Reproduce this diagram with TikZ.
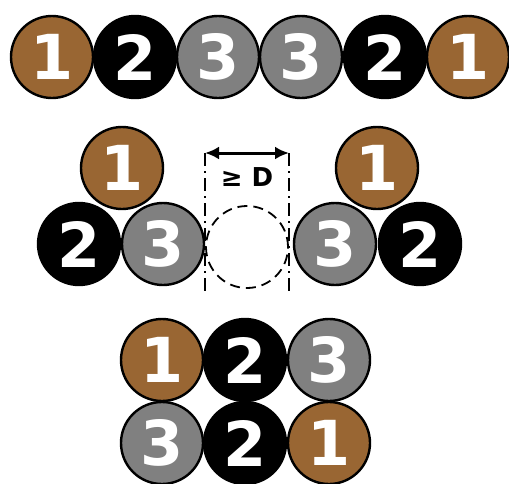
\documentclass[tikz,border=0pt]{standalone}
\usepackage{fontspec}
\setmainfont{DejaVu Sans}
\usetikzlibrary{arrows.meta}
\definecolor{brownc}{RGB}{153,102,51}
\definecolor{grayc}{RGB}{128,128,128}
\begin{document}
\begin{tikzpicture}[
    x=1pt, y=-1pt,
    wire/.style={circle, draw=black, line width=2.4pt, minimum size=82pt, inner sep=0pt,
                 text=white, font=\fontsize{62}{62}\selectfont\bfseries},
    one/.style={wire, fill=brownc},
    two/.style={wire, fill=black},
    three/.style={wire, fill=grayc},
    gap/.style={circle, draw=black, dash pattern=on 10pt off 6pt, line width=1.8pt, minimum size=82pt, inner sep=0pt},
    guide/.style={line width=1.8pt, dash pattern=on 13pt off 5pt on 2pt off 5pt},
    arrow/.style={{Latex[length=14pt,width=13pt]}-{Latex[length=14pt,width=13pt]}, line width=3pt}
]
\useasboundingbox (0,0) rectangle (509,483);

% top row
\node[one]   (t1) at (52,57)  {1};
\node[two]   (t2) at (135,57) {2};
\node[three] (t3) at (218,57) {3};
\node[three] (t4) at (301,57) {3};
\node[two]   (t5) at (385,57) {2};
\node[one]   (t6) at (468,57) {1};

% middle, gap
\node[gap] (g) at (247,247) {};
\node[one]   (l1) at (122,168) {1};
\node[two]   (l2) at (79,244)  {2};
\node[three] (l3) at (163,244) {3};
\node[one]   (r1) at (377,168) {1};
\node[three] (r3) at (335,244) {3};
\node[two]   (r2) at (420,244) {2};

\coordinate (ga) at (205,153);
\coordinate (gb) at (289,153);
\coordinate (gc) at (205,294);
\coordinate (gd) at (289,294);
\draw[guide] (ga) -- (gc);
\draw[guide] (gb) -- (gd);
\draw[arrow] (ga) -- (gb);
\node[font=\fontsize{26}{26}\selectfont\bfseries] (d) at (247,177) {≥ D};

% bottom block
\node[one]   (b1) at (162,360) {1};
\node[two]   (b2) at (245,360) {2};
\node[three] (b3) at (329,360) {3};
\node[three] (b4) at (162,443) {3};
\node[two]   (b5) at (245,443) {2};
\node[one]   (b6) at (329,443) {1};

\end{tikzpicture}
\end{document}
